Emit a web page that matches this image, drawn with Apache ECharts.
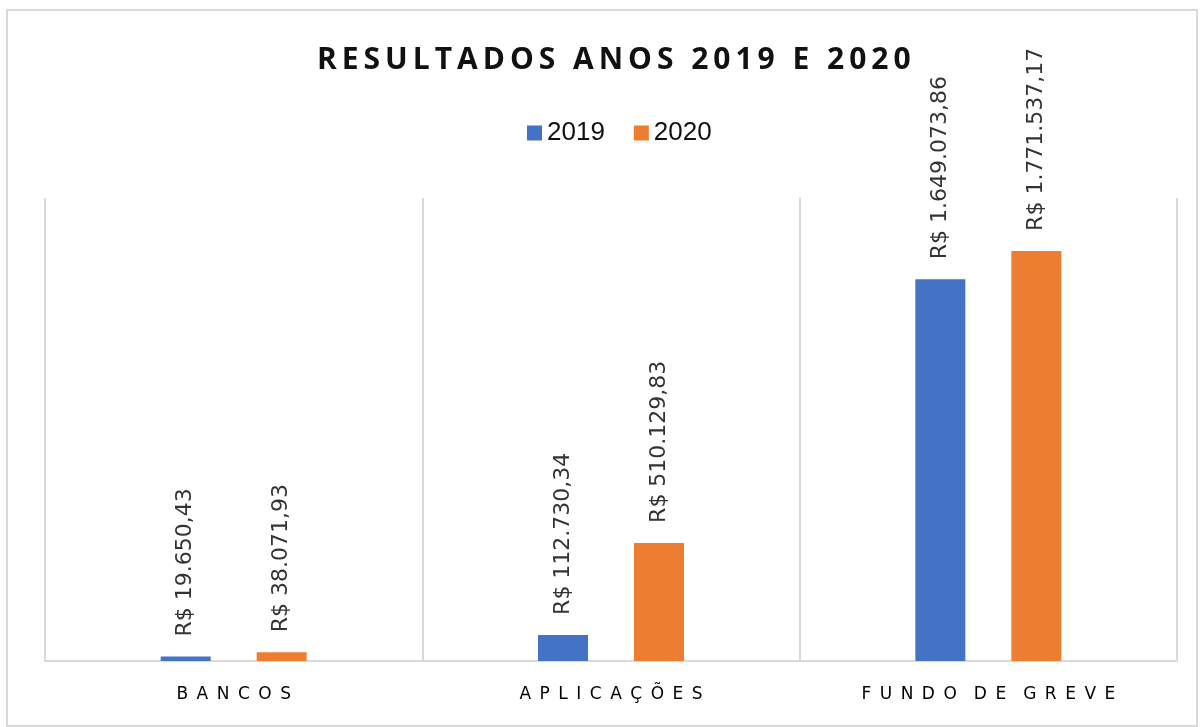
<!DOCTYPE html>
<html>
<head>
<meta charset="utf-8">
<script src="https://cdn.jsdelivr.net/npm/echarts@6/dist/echarts.min.js"></script>
<style>
  html, body { margin: 0; padding: 0; background: #fff; }
  #chart { width: 1203px; height: 727px; }
</style>
</head>
<body>
<div id="chart"></div>
<script>
var categories = ['BANCOS', 'APLICAÇÕES', 'FUNDO DE GREVE'];
var values2019 = [19650.43, 112730.34, 1649073.86];
var values2020 = [38071.93, 510129.83, 1771537.17];
var seriesNames = ['2019', '2020'];
var titleText = 'RESULTADOS ANOS 2019 E 2020';

// espaçamento entre letras (o echarts não tem letterSpacing)
var spread = function (s, sep, wordSep) {
    return s.split(' ').map(function (w) { return w.split('').join(sep); }).join(wordSep);
};

var brl = function (v) {
    var parts = v.toFixed(2).split('.');
    var inteiro = parts[0].replace(/\B(?=(\d{3})+(?!\d))/g, '.');
    return 'R$ ' + inteiro + ',' + parts[1];
};

var chartDom = document.getElementById('chart');
var myChart = echarts.init(chartDom);

var labelStyle = {
    show: true,
    position: 'top',
    rotate: 90,
    align: 'left',
    verticalAlign: 'middle',
    distance: 20,
    color: '#333',
    fontFamily: 'DejaVu Sans',
    fontSize: 22,
    formatter: function (p) { return brl(p.value); }
};

var option = {
    animation: false,
    color: ['#4472C4', '#ED7D31'],
    title: {
        text: spread(titleText, '\u2009', '\u2009 \u2009'),
        left: 312,
        top: 40,
        textStyle: {
            fontFamily: 'Open Sans',
            fontWeight: 'bold',
            fontSize: 30,
            color: '#111'
        }
    },
    legend: {
        data: seriesNames,
        top: 115,
        left: 522,
        icon: 'rect',
        itemWidth: 15,
        itemHeight: 15,
        itemGap: 29,
        textStyle: {
            fontFamily: 'Liberation Sans',
            fontSize: 26,
            color: '#111'
        }
    },
    grid: {
        left: 45,
        right: 26,
        top: 198,
        bottom: 66
    },
    xAxis: {
        type: 'category',
        data: categories,
        axisTick: { show: false },
        axisLine: { lineStyle: { color: '#d9d9d9', width: 2 } },
        splitLine: { show: true, lineStyle: { color: '#d9d9d9', width: 2 } },
        axisLabel: {
            margin: 25,
            color: '#000',
            fontFamily: 'DejaVu Sans',
            fontSize: 17,
            formatter: function (s) { return spread(s, '\u2002', '\u2002\u2002'); }
        }
    },
    yAxis: {
        type: 'value',
        min: 0,
        max: 2000000,
        show: false,
        splitLine: { show: false }
    },
    series: [
        {
            name: seriesNames[0],
            type: 'bar',
            data: values2019,
            barWidth: 50,
            barGap: '92%',
            label: labelStyle
        },
        {
            name: seriesNames[1],
            type: 'bar',
            data: values2020,
            barWidth: 50,
            label: labelStyle
        }
    ],
    graphic: [
        {
            type: 'rect',
            shape: { x: 7, y: 10, width: 1190, height: 716 },
            style: { fill: 'none', stroke: '#d9d9d9', lineWidth: 2 },
            silent: true
        }
    ]
};

option && myChart.setOption(option);
</script>
</body>
</html>
